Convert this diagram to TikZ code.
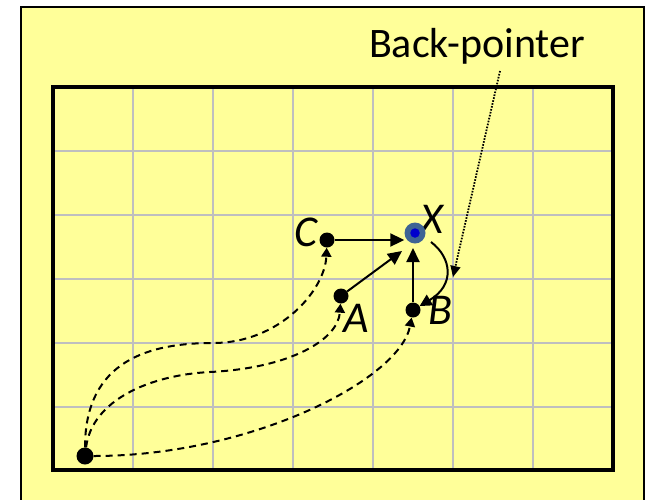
\documentclass[tikz,border=0pt]{standalone}
\usepackage{fontspec}
\setmainfont{Carlito}
\usetikzlibrary{arrows.meta}
\definecolor{bgyellow}{HTML}{FFFF99}
\definecolor{gridgray}{HTML}{BFBFBF}
\definecolor{ringblue}{HTML}{3E6494}
\definecolor{coreblue}{HTML}{0000CC}
\tikzset{
  dotnode/.style={circle,fill=black,minimum size=15pt,inner sep=0pt},
  startdot/.style={circle,fill=black,minimum size=17pt,inner sep=0pt},
  conn/.style={line width=2pt,-{Triangle[length=14pt,width=13pt]}},
  pathconn/.style={line width=2pt,dash pattern=on 7pt off 5pt,-{Triangle[length=9pt,width=10pt]}},
  pointerconn/.style={line width=1.8pt,dash pattern=on 1.6pt off 1.4pt,-{Triangle[length=11pt,width=10pt]}},
  lbl/.style={font=\fontsize{44}{52}\selectfont\itshape,inner sep=0pt,anchor=base},
}
\begin{document}
\begin{tikzpicture}[x=1pt,y=-1pt]
\useasboundingbox (0,0) rectangle (648,499);
\begin{scope}
\clip (0,0) rectangle (648,499);
\fill[white] (0,0) rectangle (648,499);
\filldraw[fill=bgyellow,draw=black,line width=2pt] (21,7) rectangle (644,520);
\end{scope}
% grid
\foreach \gx in {133,213,293,373,453,533}
  \draw[gridgray,line width=2pt] (\gx,87) -- (\gx,470);
\foreach \gy in {151,215,279,343,407}
  \draw[gridgray,line width=2pt] (53,\gy) -- (613,\gy);
\draw[line width=4pt] (53,87) rectangle (613,470);
% label text
\node[font=\fontsize{42}{50}\selectfont,inner sep=0pt,anchor=base] (bptext) at (477,57) {Back-pointer};
\node[lbl] (lC) at (306,246) {C};
\node[lbl] (lA) at (356,332) {A};
\node[lbl] (lB) at (440,324) {B};
\node[lbl] (lX) at (432,233) {X};
% nodes
\node[startdot] (S) at (85,456) {};
\node[dotnode] (C) at (327,240) {};
\node[dotnode] (A) at (341,296) {};
\node[dotnode] (B) at (413,310) {};
\node[circle,fill=ringblue,minimum size=21pt,inner sep=0pt] (X) at (415,233) {};
\node[circle,fill=coreblue,minimum size=9.5pt,inner sep=0pt] (Xc) at (X) {};
\coordinate (xa) at (402,251);
\coordinate (xb) at (413,248);
\coordinate (xs) at (431,242);
\coordinate (bp) at (500,71);
\coordinate (bpt) at (453,277);
% dashed paths
\draw[pathconn] (S) .. controls (85,360) and (150,343) .. (213,343)
                    .. controls (280,343) and (325,290) .. (C);
\draw[pathconn] (S) .. controls (92,400) and (150,375) .. (210,372)
                    .. controls (290,368) and (338,340) .. (A);
\draw[pathconn] (S) .. controls (250,456) and (400,380) .. (B);
% solid arrows
\draw[conn] (C) -- (C -| X.west);
\draw[conn] (A) -- (xa);
\draw[conn] (B) -- (xb);
\draw[line width=2pt,-{Triangle[length=12pt,width=12pt]}] (xs) .. controls (452,258) and (455,285) .. (B);
% back-pointer annotation
\draw[pointerconn] (bp) -- (bpt);
\end{tikzpicture}
\end{document}
